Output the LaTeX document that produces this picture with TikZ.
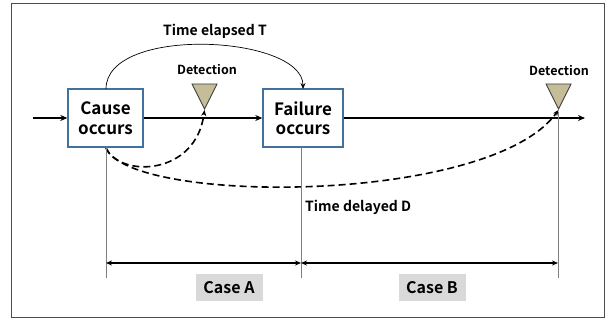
\documentclass[tikz,border=0pt]{standalone}
\usepackage{fontspec}
\setmainfont{Noto Sans CJK KR}[BoldFont={Noto Sans CJK KR Bold}]
\usetikzlibrary{arrows.meta}
\definecolor{boxblue}{HTML}{41719C}
\definecolor{khaki}{HTML}{C4BD97}
\definecolor{casegray}{HTML}{D9D9D9}
\tikzset{
  eventbox/.style={draw=boxblue, line width=1.4pt, fill=white, minimum width=75pt, minimum height=58pt, inner sep=0pt, align=center, font=\bfseries\fontsize{17}{19.5}\selectfont},
  detect/.style={draw=black!75, line width=0.9pt, fill=khaki},
  lbl/.style={font=\bfseries\fontsize{14}{16}\selectfont, inner sep=0pt},
  smalllbl/.style={font=\bfseries\fontsize{12.5}{14}\selectfont, inner sep=0pt},
  casebox/.style={fill=casegray, minimum width=67pt, minimum height=27pt, inner sep=0pt, font=\bfseries\fontsize{16}{18}\selectfont},
  mainline/.style={line width=1.8pt, -{Stealth[length=7pt,width=6pt]}},
  guide/.style={draw=black!50, line width=0.7pt},
  span/.style={line width=1.4pt, {Stealth[length=6pt,width=5pt]}-{Stealth[length=6pt,width=5pt]}},
  dashcurve/.style={line width=1.6pt, dash pattern=on 7pt off 4pt, -{Stealth[length=6pt,width=5pt]}},
}
\begin{document}
\begin{tikzpicture}[x=1pt,y=-1pt]
\useasboundingbox (0,0) rectangle (609,320);
\draw[draw=black!70, line width=0.8pt] (11,3) rectangle (604,317);

\coordinate (start) at (33,118);
\coordinate (end) at (585,118);
\node[eventbox] (cause) at (105.5,118) {Cause\\occurs};
\node[eventbox, minimum width=80pt] (failure) at (303,118) {Failure\\occurs};

\draw[mainline] (start) -- (cause.west);
\draw[mainline] (cause.east) -- (failure.west);
\draw[mainline] (failure.east) -- (end);

% detection triangles
\draw[detect] (192,84) -- (217,84) -- (204.5,109) -- cycle;
\coordinate (det1) at (204.5,110);
\draw[detect] (546,84) -- (571,84) -- (558.5,109) -- cycle;
\coordinate (det2) at (558.5,110);
\node[smalllbl] (dl1) at (207,70) {Detection};
\node[smalllbl] (dl2) at (559,71) {Detection};

% time elapsed arc
\coordinate (arcA) at (106,89);
\coordinate (arcB) at (303,89);
\draw[line width=0.7pt, -{Stealth[length=6pt,width=5pt]}] (arcA) .. controls (106,25) and (303,35) .. (arcB);
\node[lbl] (tel) at (215,31) {Time elapsed T};

% dashed curves
\coordinate (cs) at (106,148);
\draw[dashcurve] (cs) .. controls (120,178) and (196,176) .. (det1);
\draw[dashcurve] (cs) .. controls (130,205) and (490,205) .. (det2);
\node[lbl, anchor=west] (tdl) at (305,207) {Time delayed D};

% guides
\coordinate (g1) at (106,278);
\coordinate (g2) at (301,278);
\coordinate (g3) at (558,278);
\coordinate (g3t) at (558,112);
\draw[guide] (106,147) -- (g1);
\draw[guide] (301,147) -- (g2);
\draw[guide] (g3t) -- (g3);

\coordinate (s1) at (106,263);
\coordinate (s2) at (301,263);
\coordinate (s3) at (558,263);
\draw[span] (s1) -- (s2);
\draw[span] (s2) -- (s3);

\node[casebox] (caseA) at (229,287.5) {Case A};
\node[casebox] (caseB) at (432,287.5) {Case B};
\end{tikzpicture}
\end{document}
